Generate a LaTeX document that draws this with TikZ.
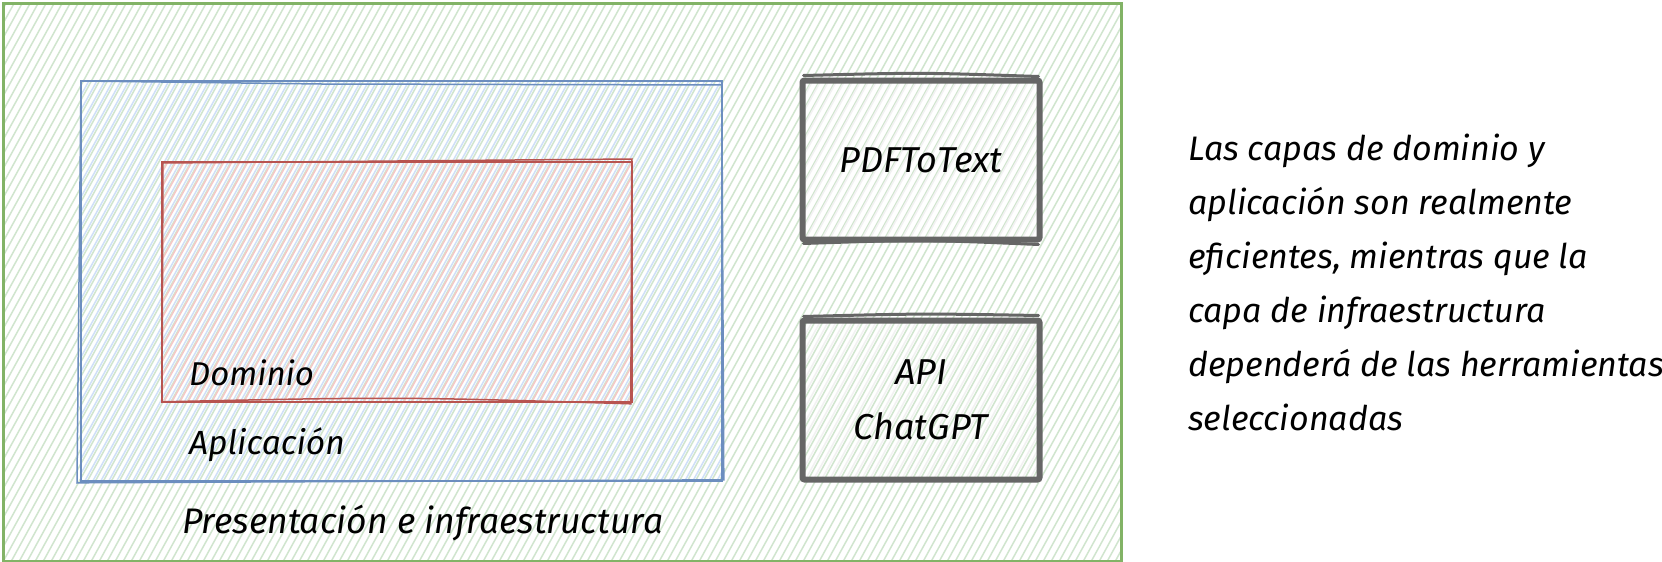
\documentclass[tikz,border=0pt]{standalone}
\usepackage{fontspec}
\setmainfont{Fira Sans}
\usetikzlibrary{calc}
\definecolor{gfill}{HTML}{D0E5CE}
\definecolor{gline}{HTML}{82B366}
\definecolor{bfill}{HTML}{CFE0F8}
\definecolor{bline}{HTML}{6C8EBF}
\definecolor{rfill}{HTML}{F6C8C6}
\definecolor{rline}{HTML}{B85450}
\definecolor{kfill}{HTML}{F2F2F2}
\definecolor{kline}{HTML}{666666}
\tikzset{
  hand/.style={font=\fontsize{#1}{55}\selectfont\itshape, text=black, inner sep=0pt},
  hand/.default=33,
  hatch/.style={line width=1.5pt, draw=#1},
  hatchfill/.style 2 args={path picture={
      \foreach \k in {-45,...,145}
        \draw[hatch=#1] ($(path picture bounding box.south west)+(\k*8+#2,0)$) -- ++(330,-600);
    }},
  layer/.style={inner sep=0pt, anchor=north west},
  toolbox/.style={draw=kline, line width=6pt, rounded corners=2pt, minimum width=237pt,
    minimum height=159pt, inner sep=0pt, hand=36, align=center, hatchfill={kfill}{3}},
}
\begin{document}
\begin{tikzpicture}[x=1pt,y=-1pt]
\useasboundingbox (0,0) rectangle (1662,562);
\fill[white] (0,0) rectangle (1662,562);

% containers
\node[layer, minimum width=1118pt, minimum height=558pt, draw=gline, line width=2.5pt,
  hatchfill={gfill}{0}] (outer) at (2,2) {};
\node[layer, minimum width=641pt, minimum height=400pt, draw=bline, line width=1.8pt,
  hatchfill={bfill}{4}] (app) at (80,80) {};
\node[layer, minimum width=470pt, minimum height=240pt, draw=rline, line width=1.8pt,
  hatchfill={rfill}{2}] (dom) at (161,161) {};

% sketchy second strokes
\draw[bline, line width=1.5pt] ($(app.north west)+(1,1)$) -- ($(app.north)+(-80,4)$) -- ($(app.north east)+(-1,5)$)
  -- ($(app.south east)+(1,-2)$) -- ($(app.south west)+(-3,1)$) -- cycle;
\draw[rline, line width=1.5pt] ($(dom.north west)+(2,2)$) -- ($(dom.north east)+(-1,-2)$)
  -- ($(dom.south east)+(-2,1)$) .. controls ($(dom.south)+(0,-6)$) .. ($(dom.south west)+(1,-1)$) -- cycle;

% tool boxes
\node[toolbox] (pdf) at (921,160) {PDFToText};
\node[toolbox] (api) at (921,400) {API\\ChatGPT};
\draw[kline, line width=3pt, line cap=round] ($(pdf.north west)+(4,-2)$) .. controls ($(pdf.north)+(0,-5)$) .. ($(pdf.north east)+(-4,-1)$);
\draw[kline, line width=3pt, line cap=round] ($(pdf.south west)+(4,1)$) .. controls ($(pdf.south)+(0,-3)$) .. ($(pdf.south east)+(-4,2)$);
\draw[kline, line width=3pt, line cap=round] ($(api.north west)+(4,-1)$) .. controls ($(api.north)+(0,-4)$) .. ($(api.north east)+(-4,-2)$);

% layer labels
\node[hand=33] [anchor=base west] (tdom) at (189,385) {Dominio};
\node[hand=33.5] [anchor=base west] (tapp) at (189,454) {Aplicación};
\node[hand=35.5] [anchor=base west] (tpres) at (182,533) {Presentación e infraestructura};

% note
\node[hand=34] [anchor=base west] (n1) at (1188,160) {Las capas de dominio y};
\node[hand=34] [anchor=base west] (n2) at (1188,214) {aplicación son realmente};
\node[hand=34] [anchor=base west] (n3) at (1188,268) {eficientes, mientras que la};
\node[hand=34] [anchor=base west] (n4) at (1188,322) {capa de infraestructura};
\node[hand=34] [anchor=base west] (n5) at (1188,376) {dependerá de las herramientas};
\node[hand=34] [anchor=base west] (n6) at (1188,430) {seleccionadas};
\end{tikzpicture}
\end{document}
